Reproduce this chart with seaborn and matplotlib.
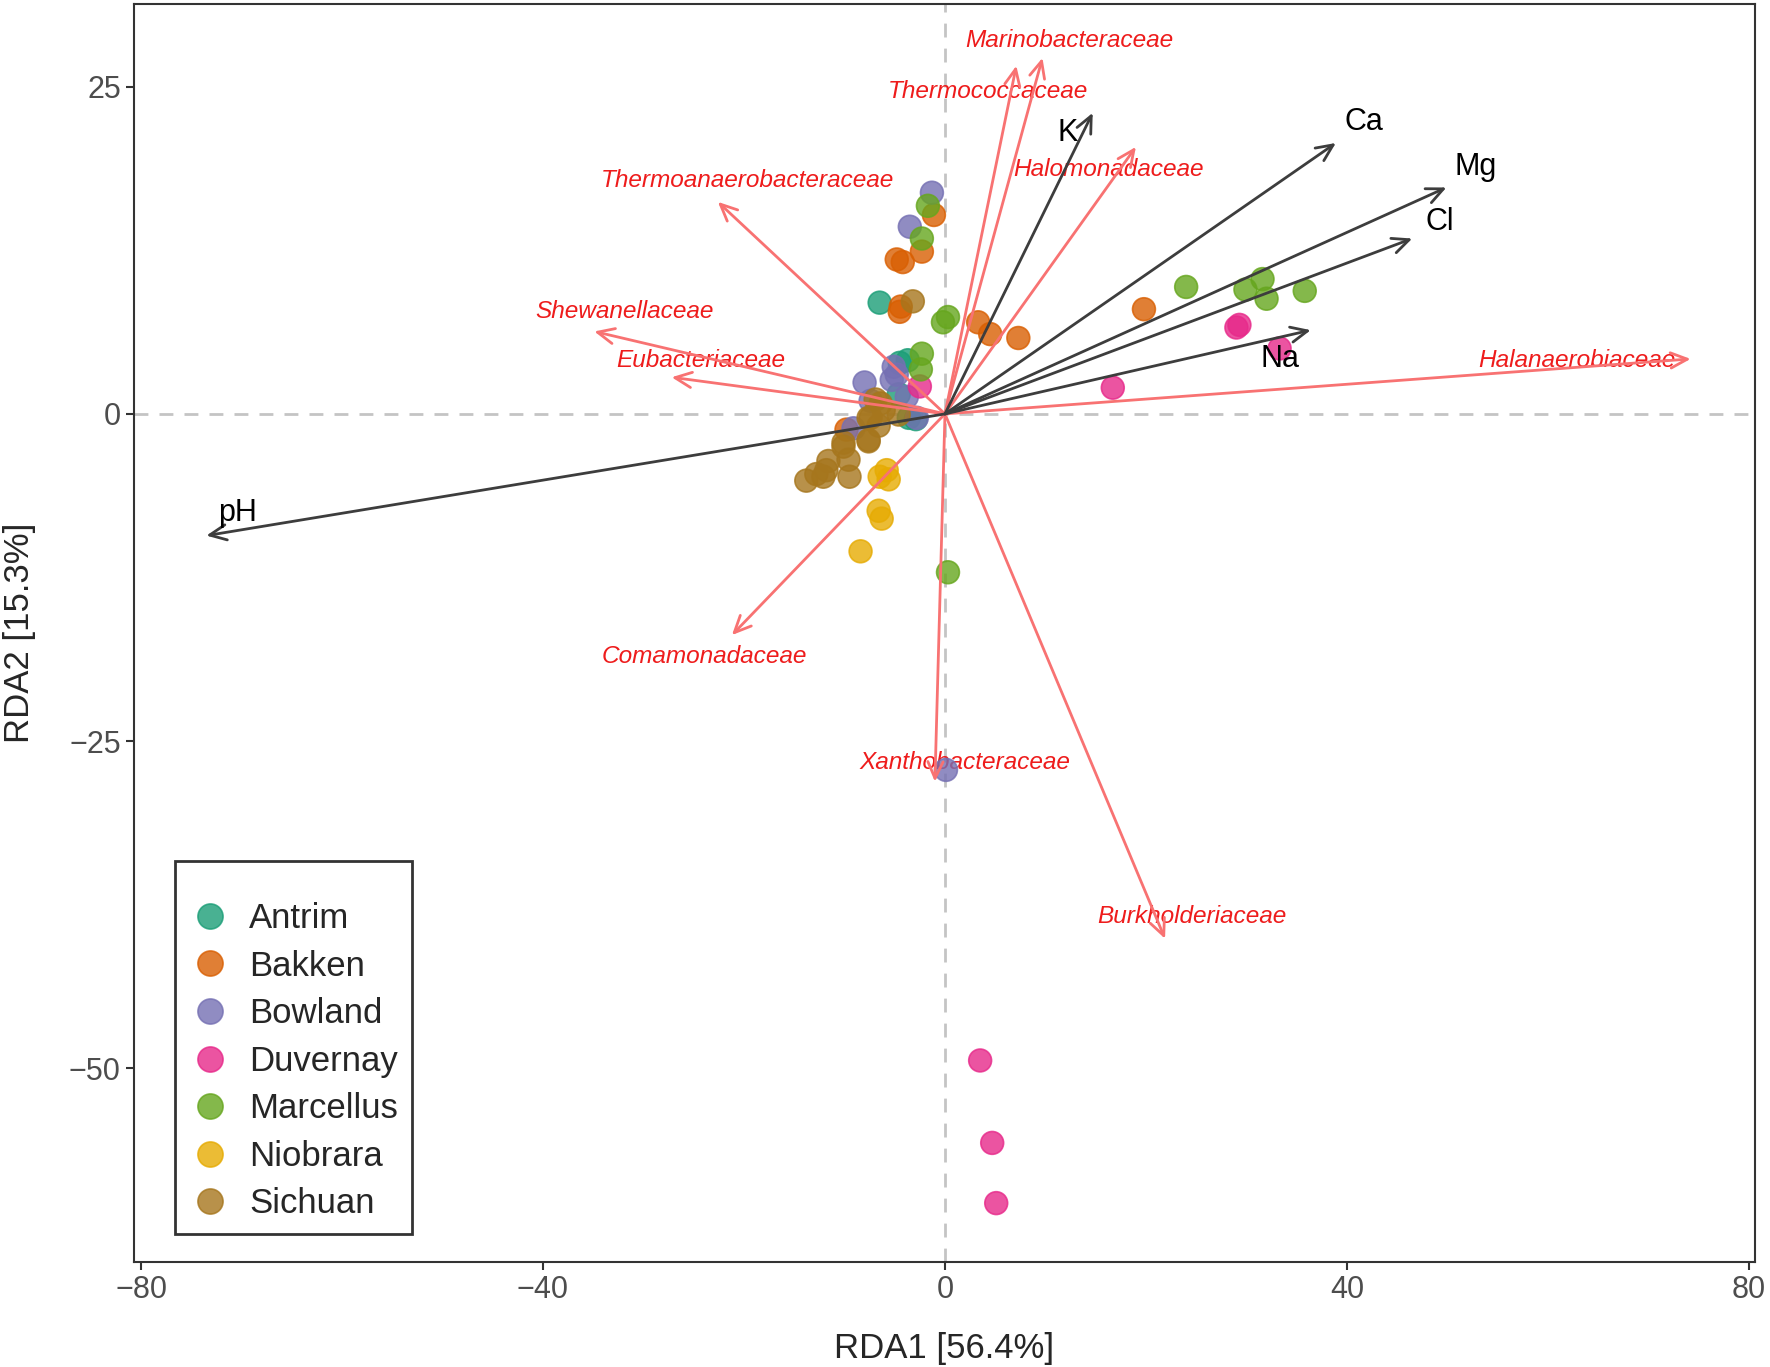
import matplotlib
matplotlib.use("Agg")
import matplotlib.pyplot as plt
import seaborn as sns
import pandas as pd

# sample scores (RDA1, RDA2) per shale basin
antrim_x = [-6.5, -3.7, -4.5, -4.6, -3.6, -2.9]
antrim_y = [8.5, 4.1, 3.9, 1.5, -0.3, -0.4]
bakken_x = [-1.1, -2.3, -4.8, -4.2, -4.4, -4.5, 3.3, 4.5, 7.3, 19.8, -9.8]
bakken_y = [15.2, 12.4, 11.8, 11.6, 8.2, 7.8, 7.0, 6.1, 5.8, 8.0, -1.2]
bowland_x = [-1.3, -3.5, -5.1, -5.3, -8.0, -3.8, -7.4, -2.8, -9.1, 0.1, -4.8]
bowland_y = [16.9, 14.3, 3.6, 2.6, 2.4, 1.3, 1.0, -0.3, -1.1, -27.2, 3.0]
duvernay_x = [-2.5, 16.7, 29.0, 29.3, 33.3, 3.5, 4.7, 5.1]
duvernay_y = [2.1, 2.0, 6.6, 6.8, 5.0, -49.4, -55.7, -60.3]
marcellus_x = [-1.7, -2.3, 0.3, -0.2, -2.3, -2.4, 0.3, 24.0, 29.9, 31.6, 32.0, 35.8]
marcellus_y = [15.9, 13.4, 7.4, 7.0, 4.6, 3.4, -12.1, 9.7, 9.5, 10.3, 8.8, 9.4]
niobrara_x = [-5.8, -6.5, -5.6, -6.6, -6.3, -8.4]
niobrara_y = [-4.3, -4.8, -5.0, -7.4, -8.0, -10.5]
sichuan_x = [-3.2, -6.9, -6.4, -6.1, -4.6, -7.6, -7.4, -6.6, -7.6, -10.1, -10.1,
             -9.6, -11.6, -11.8, -12.8, -13.8, -12.1, -9.5, -7.6]
sichuan_y = [8.6, 1.1, 0.8, 0.3, -0.05, -0.3, -0.3, -0.9, -2.0, -2.2, -2.5,
             -3.5, -3.6, -4.3, -4.6, -5.1, -4.8, -4.8, -2.1]

basins = ["Antrim", "Bakken", "Bowland", "Duvernay", "Marcellus", "Niobrara", "Sichuan"]

# environmental vectors
env_names = ["K", "Ca", "Mg", "Cl", "Na", "pH"]
env_x = [14.7, 38.9, 49.9, 46.5, 36.4, -73.5]
env_y = [23.0, 20.7, 17.3, 13.4, 6.4, -9.3]
env_lab_x = [12.2, 41.7, 52.8, 49.2, 33.3, -70.4]
env_lab_y = [21.5, 22.3, 18.9, 14.7, 4.2, -7.6]

# taxa vectors
tax_names = ["Marinobacteraceae", "Thermococcaceae", "Halomonadaceae",
             "Thermoanaerobacteraceae", "Shewanellaceae", "Eubacteriaceae",
             "Halanaerobiaceae", "Comamonadaceae", "Xanthobacteraceae",
             "Burkholderiaceae"]
tax_x = [9.7, 7.1, 19.0, -22.6, -34.9, -27.2, 74.2, -21.2, -1.0, 21.9]
tax_y = [27.2, 26.6, 20.4, 16.2, 6.3, 2.8, 4.2, -16.9, -28.1, -40.1]
tax_lab_x = [12.4, 4.3, 16.3, -19.7, -31.9, -24.3, 62.9, -23.9, 2.0, 24.6]
tax_lab_y = [28.5, 24.6, 18.7, 17.8, 7.8, 4.1, 4.1, -18.5, -26.6, -38.4]

xs = [antrim_x, bakken_x, bowland_x, duvernay_x, marcellus_x, niobrara_x, sichuan_x]
ys = [antrim_y, bakken_y, bowland_y, duvernay_y, marcellus_y, niobrara_y, sichuan_y]
rows = []
for b, xx, yy in zip(basins, xs, ys):
    for a, c in zip(xx, yy):
        rows.append((b, a, c))
df = pd.DataFrame(rows, columns=["Basin", "RDA1", "RDA2"])

sns.set_style("white")
plt.rcParams['font.family'] = ['Liberation Sans', 'DejaVu Sans']

fig = plt.figure(figsize=(17.7, 13.67), dpi=100)
ax = fig.add_axes([0.0757, 0.0768, 0.9158, 0.9201])

ax.axhline(0, color="#C4C4C4", ls=(0, (5, 4)), lw=2, zorder=1)
ax.axvline(0, color="#C4C4C4", ls=(0, (5, 4)), lw=2, zorder=1)

pal = sns.color_palette("Dark2", 7)
sns.scatterplot(data=df, x="RDA1", y="RDA2", hue="Basin", hue_order=basins,
                palette=pal, s=270, alpha=0.8, edgecolor="face", linewidth=1.2,
                ax=ax, zorder=3)

red_line = "#F87272"
red_text = "#EE1C1C"
dark = "#3D3D3D"
head = "->,head_length=1.2,head_width=0.55"

for name, tx, ty, lx, ly in zip(tax_names, tax_x, tax_y, tax_lab_x, tax_lab_y):
    ax.annotate("", xy=(tx, ty), xytext=(0, 0),
                arrowprops=dict(arrowstyle=head, color=red_line, lw=2,
                                shrinkA=0, shrinkB=0), zorder=4)
    ax.text(lx, ly, name, color=red_text, style="italic", fontsize=17.6,
            ha="center", va="center", zorder=2)

for name, tx, ty, lx, ly in zip(env_names, env_x, env_y, env_lab_x, env_lab_y):
    ax.annotate("", xy=(tx, ty), xytext=(0, 0),
                arrowprops=dict(arrowstyle=head, color=dark, lw=2,
                                shrinkA=0, shrinkB=0), zorder=5)
    ax.text(lx, ly, name, color="black", fontsize=22,
            ha="center", va="center", zorder=6)

ax.set_xlim(-80.7, 80.6)
ax.set_ylim(-64.8, 31.3)
ax.set_xticks([-80, -40, 0, 40, 80])
ax.set_yticks([-50, -25, 0, 25])
ax.set_xticklabels(["\u221280", "\u221240", "0", "40", "80"])
ax.set_yticklabels(["\u221250", "\u221225", "0", "25"])
ax.tick_params(axis="both", labelsize=22, labelcolor="#4D4D4D", length=6,
               width=1.5, color="#333333", direction="out", bottom=True, left=True)
for sp in ax.spines.values():
    sp.set_color("#333333")
    sp.set_linewidth(1.5)

ax.set_xlabel("RDA1 [56.4%]", fontsize=25, labelpad=19)
ax.set_ylabel("RDA2 [15.3%]", fontsize=25, labelpad=24)

leg = ax.legend(loc="lower left", bbox_to_anchor=(0.025, 0.022), borderaxespad=0,
                fontsize=25, frameon=True, fancybox=False, title=" ",
                title_fontsize=9, labelspacing=0.42, handletextpad=0.5,
                borderpad=0.4, markerscale=1.1, handlelength=1.25)
leg.get_frame().set_edgecolor("black")
leg.get_frame().set_linewidth(2)
for h in leg.legend_handles:
    h.set_alpha(0.8)

fig.savefig("out.png", dpi=100)
